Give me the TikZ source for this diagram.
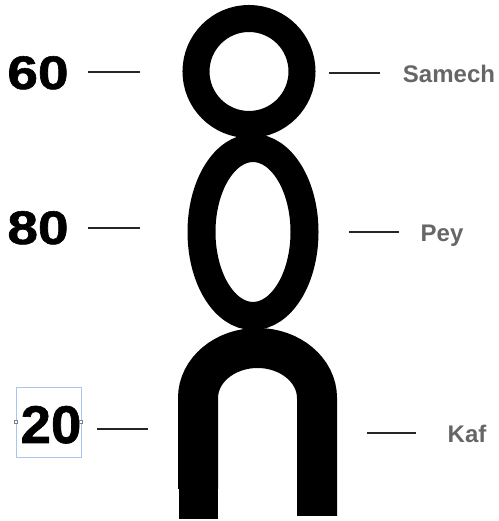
\documentclass[tikz,border=0pt]{standalone}
\usepackage{fontspec}
\setmainfont{Liberation Sans}
\newfontfamily\numfont[FakeBold=1.2]{Liberation Sans Bold}
\definecolor{labgray}{HTML}{666666}
\definecolor{selblue}{HTML}{A9C6F2}
\tikzset{
  numtext/.style={anchor=base, inner sep=0pt, font=\numfont},
  labtext/.style={anchor=base, inner sep=0pt, text=labgray, font=\fontsize{24}{24}\selectfont\bfseries},
  tick/.style={line width=1.6pt, draw=black!85},
  ring/.style={line width=27pt, draw=black},
}
\begin{document}
\begin{tikzpicture}[x=1pt,y=1pt]
\useasboundingbox (0,0) rectangle (498,521);
% shapes
\draw[ring] (249,449.5) circle[radius=53];
\draw[ring, line width=28pt] (253,289) ellipse[x radius=51.5, y radius=84];
\draw[line width=40pt, draw=black] (198,32) -- (198,123) arc[start angle=180, end angle=0, x radius=59.5, y radius=50] -- (317,5);
\fill[black] (179,2) rectangle (218,32);
% numbers
\node[numtext] (n60) at (38,432) {\fontsize{47}{47}\selectfont\scalebox{1.17}[1]{60}};
\node[numtext] (n80) at (38,277) {\fontsize{47}{47}\selectfont\scalebox{1.17}[1]{80}};
\node[numtext] (n20) at (51,78) {\fontsize{53}{53}\selectfont\scalebox{1.03}[1]{20}};
% selection box
\draw[selblue, line width=0.8pt] (16,64) rectangle (81,134);
\draw[gray, fill=white, line width=0.5pt] (14.5,97.5) rectangle (17.5,100.5);
\draw[gray, fill=white, line width=0.5pt] (79.5,97.5) rectangle (82.5,100.5);
% labels
\node[labtext] (samech) at (449,438) {Samech};
\node[labtext] (pey) at (442,279) {Pey};
\node[labtext] (kaf) at (467,78) {Kaf};
% ticks
\coordinate (a1) at (88,449); \coordinate (a2) at (140,449);
\coordinate (b1) at (88,293); \coordinate (b2) at (140,293);
\coordinate (c1) at (97,92); \coordinate (c2) at (148,92);
\coordinate (d1) at (329,448); \coordinate (d2) at (380,448);
\coordinate (e1) at (349,289); \coordinate (e2) at (399,289);
\coordinate (f1) at (367,88); \coordinate (f2) at (416,88);
\draw[tick] (a1) -- (a2);
\draw[tick] (b1) -- (b2);
\draw[tick] (c1) -- (c2);
\draw[tick] (d1) -- (d2);
\draw[tick] (e1) -- (e2);
\draw[tick] (f1) -- (f2);
\end{tikzpicture}
\end{document}
